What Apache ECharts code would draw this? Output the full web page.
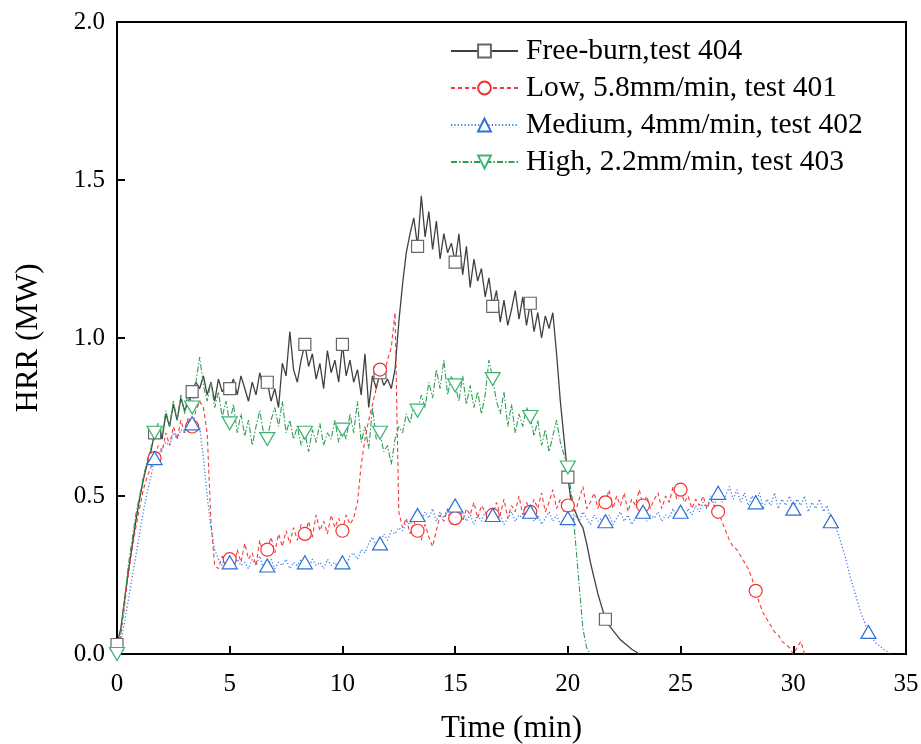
<!DOCTYPE html>
<html><head><meta charset="utf-8">
<script src="https://cdn.jsdelivr.net/npm/echarts@6/dist/echarts.min.js"></script>
<style>html,body{margin:0;padding:0;background:#fff}#c{width:921px;height:744px}</style>
</head><body><div id="c"></div>
<script>
// sampling interval of the records (10 s = 1/6 min)
const STEP_MIN = 1 / 6;
const MARK_EVERY = 10;

const X_MIN = 0, X_MAX = 35, X_INTERVAL = 5;
const Y_MIN = 0, Y_MAX = 2, Y_INTERVAL = 0.5;

const X_TITLE = 'Time (min)';
const Y_TITLE = 'HRR (MW)';

const NAMES = [
  'Free-burn,test 404',
  'Low, 5.8mm/min, test 401',
  'Medium, 4mm/min, test 402',
  'High, 2.2mm/min, test 403'
];

const FREE_BURN = [
  0.03,0.08,0.17,0.26,0.34,0.42,
  0.49,0.55,0.60,0.64,0.70,0.72,
  0.68,0.76,0.72,0.79,0.74,0.81,
  0.77,0.80,0.83,0.86,0.84,0.88,
  0.82,0.86,0.80,0.87,0.83,0.85,
  0.84,0.87,0.82,0.88,0.84,0.80,
  0.86,0.82,0.89,0.84,0.86,0.80,
  0.84,0.78,0.92,0.88,1.02,0.90,
  0.86,0.93,0.98,0.91,0.95,0.87,
  0.92,0.84,0.96,0.89,0.93,0.86,
  0.98,0.88,0.93,0.86,0.90,0.82,
  0.95,0.78,0.88,0.84,0.89,0.85,
  0.87,0.84,0.90,1.05,1.17,1.27,
  1.33,1.38,1.29,1.45,1.32,1.40,
  1.28,1.37,1.25,1.33,1.27,1.30,
  1.24,1.33,1.20,1.29,1.16,1.25,
  1.18,1.22,1.13,1.19,1.10,1.15,
  1.05,1.12,1.04,1.09,1.15,1.06,
  1.13,1.04,1.11,1.02,1.08,1.00,
  1.07,1.03,1.08,0.95,0.80,0.68,
  0.56,0.47,0.45,0.42,0.40,0.35,
  0.29,0.24,0.19,0.15,0.11,0.09,
  0.075,0.06,0.045,0.035,0.025,0.015,
  0.008,0.00
];

const LOW = [
  0.00,0.06,0.15,0.25,0.33,0.40,
  0.46,0.52,0.56,0.59,0.62,0.66,
  0.64,0.70,0.66,0.72,0.68,0.74,
  0.70,0.75,0.72,0.77,0.80,0.78,
  0.70,0.42,0.28,0.27,0.31,0.28,
  0.30,0.27,0.33,0.29,0.35,0.30,
  0.32,0.28,0.36,0.31,0.33,0.37,
  0.32,0.38,0.34,0.39,0.35,0.40,
  0.36,0.41,0.38,0.42,0.37,0.44,
  0.39,0.42,0.38,0.44,0.40,0.43,
  0.39,0.44,0.41,0.43,0.48,0.60,
  0.68,0.74,0.79,0.84,0.90,0.88,
  0.93,0.97,1.08,0.45,0.40,0.43,
  0.38,0.42,0.39,0.36,0.41,0.37,
  0.34,0.39,0.44,0.42,0.46,0.41,
  0.43,0.47,0.42,0.46,0.44,0.48,
  0.43,0.47,0.45,0.42,0.44,0.48,
  0.44,0.49,0.43,0.47,0.45,0.50,
  0.44,0.48,0.45,0.49,0.46,0.51,
  0.45,0.48,0.52,0.46,0.49,0.45,
  0.47,0.50,0.45,0.49,0.53,0.46,
  0.48,0.51,0.46,0.50,0.48,0.52,
  0.46,0.50,0.47,0.51,0.45,0.49,
  0.47,0.52,0.47,0.50,0.46,0.49,
  0.51,0.46,0.50,0.48,0.53,0.49,
  0.52,0.48,0.50,0.46,0.49,0.47,
  0.50,0.46,0.49,0.47,0.45,0.42,
  0.39,0.36,0.34,0.33,0.31,0.29,
  0.27,0.24,0.20,0.16,0.13,0.11,
  0.09,0.07,0.06,0.04,0.03,0.02,
  0.00,0.02,0.04,0.00
];

const MEDIUM = [
  0.00,0.04,0.10,0.17,0.24,0.31,
  0.38,0.45,0.51,0.56,0.62,0.63,
  0.65,0.67,0.66,0.70,0.68,0.71,
  0.70,0.72,0.73,0.71,0.72,0.62,
  0.50,0.40,0.33,0.30,0.28,0.31,
  0.29,0.27,0.30,0.28,0.29,0.27,
  0.30,0.28,0.31,0.27,0.28,0.30,
  0.27,0.29,0.28,0.30,0.27,0.29,
  0.28,0.30,0.29,0.27,0.30,0.28,
  0.29,0.27,0.30,0.28,0.29,0.27,
  0.29,0.28,0.31,0.32,0.30,0.33,
  0.32,0.35,0.37,0.34,0.35,0.38,
  0.36,0.39,0.38,0.40,0.39,0.42,
  0.41,0.43,0.44,0.42,0.45,0.43,
  0.46,0.42,0.45,0.43,0.46,0.44,
  0.47,0.43,0.45,0.42,0.44,0.41,
  0.44,0.42,0.45,0.43,0.44,0.42,
  0.44,0.41,0.43,0.45,0.42,0.44,
  0.43,0.46,0.45,0.42,0.44,0.41,
  0.43,0.45,0.42,0.44,0.41,0.43,
  0.43,0.41,0.44,0.42,0.45,0.43,
  0.41,0.44,0.42,0.43,0.42,0.44,
  0.41,0.43,0.45,0.42,0.44,0.41,
  0.43,0.45,0.45,0.42,0.44,0.43,
  0.45,0.42,0.44,0.43,0.46,0.43,
  0.45,0.43,0.46,0.44,0.47,0.45,
  0.48,0.46,0.50,0.47,0.51,0.48,
  0.50,0.53,0.49,0.52,0.48,0.51,
  0.47,0.50,0.48,0.51,0.46,0.49,
  0.47,0.51,0.46,0.49,0.47,0.50,
  0.46,0.49,0.47,0.50,0.45,0.48,
  0.46,0.49,0.45,0.47,0.42,0.41,
  0.38,0.34,0.30,0.25,0.21,0.17,
  0.13,0.10,0.07,0.05,0.035,0.025,
  0.015,0.008,0.00
];

const HIGH = [
  0.00,0.07,0.17,0.28,0.36,0.44,
  0.50,0.56,0.61,0.65,0.70,0.73,
  0.69,0.77,0.72,0.80,0.74,0.82,
  0.76,0.84,0.78,0.86,0.94,0.85,
  0.80,0.86,0.78,0.83,0.75,0.80,
  0.73,0.79,0.70,0.76,0.69,0.74,
  0.66,0.72,0.77,0.70,0.68,0.74,
  0.78,0.72,0.80,0.70,0.74,0.68,
  0.72,0.66,0.70,0.64,0.71,0.67,
  0.73,0.66,0.70,0.68,0.74,0.67,
  0.71,0.68,0.76,0.70,0.80,0.67,
  0.72,0.65,0.78,0.68,0.70,0.64,
  0.66,0.60,0.68,0.72,0.70,0.76,
  0.73,0.79,0.77,0.82,0.78,0.86,
  0.81,0.90,0.84,0.93,0.82,0.88,
  0.85,0.80,0.88,0.79,0.85,0.78,
  0.83,0.76,0.82,0.93,0.87,0.80,
  0.76,0.83,0.72,0.79,0.70,0.76,
  0.72,0.78,0.75,0.69,0.74,0.66,
  0.71,0.64,0.69,0.74,0.67,0.63,
  0.59,0.50,0.36,0.22,0.08,0.02,
  0.00
];

// indices where the marker is not drawn in the original figure
const SKIP_FREE = [];
const SKIP_LOW = [0, 180];
const SKIP_MED = [0];
const SKIP_HIGH = [];

const FONT = "'Liberation Serif','Times New Roman',serif";

function build(values, skip) {
  return values.map(function (v, i) {
    const t = i * STEP_MIN;
    const mark = (i % MARK_EVERY === 0) && skip.indexOf(i) < 0;
    return mark ? { value: [t, v] } : { value: [t, v], symbol: 'none' };
  });
}

const chart = echarts.init(document.getElementById('c'), null, { renderer: 'canvas' });

function lineSeries(name, values, skip, lineColor, markColor, dash, symbol, size, rotate, lw) {
  return {
    name: name,
    type: 'line',
    data: build(values, skip),
    symbol: symbol,
    symbolSize: size,
    symbolRotate: rotate,
    showSymbol: true,
    showAllSymbol: true,
    clip: false,
    animation: false,
    lineStyle: { color: lineColor, width: lw, type: dash },
    itemStyle: { color: '#fff', borderColor: markColor, borderWidth: 1.2 },
    emphasis: { disabled: true }
  };
}

chart.setOption({
  backgroundColor: '#fff',
  animation: false,
  grid: {
    left: 117, right: 15, top: 22, bottom: 90,
    containLabel: false, outerBoundsMode: 'none',
    show: true, borderColor: '#000', borderWidth: 2, backgroundColor: 'transparent'
  },
  legend: {
    orient: 'vertical',
    left: 445,
    top: 31,
    itemWidth: 67,
    itemHeight: 16,
    itemGap: 7,
    data: NAMES,
    textStyle: { fontFamily: FONT, fontSize: 29.5, color: '#000', lineHeight: 30, padding: [0, 0, 0, 3] }
  },
  xAxis: {
    type: 'value',
    min: X_MIN, max: X_MAX, interval: X_INTERVAL,
    name: X_TITLE,
    nameLocation: 'middle',
    nameGap: 59,
    nameTextStyle: { fontFamily: FONT, fontSize: 31, color: '#000' },
    axisLine: { show: true, onZero: false, lineStyle: { color: '#000', width: 2 } },
    axisTick: { show: true, inside: true, length: 8, lineStyle: { color: '#000', width: 2 } },
    axisLabel: { fontFamily: FONT, fontSize: 25, color: '#000', margin: 18 },
    splitLine: { show: false }
  },
  yAxis: {
    type: 'value',
    min: Y_MIN, max: Y_MAX, interval: Y_INTERVAL,
    name: Y_TITLE,
    nameLocation: 'middle',
    nameGap: 73,
    nameRotate: 90,
    nameTextStyle: { fontFamily: FONT, fontSize: 31, color: '#000' },
    axisLine: { show: true, onZero: false, lineStyle: { color: '#000', width: 2 } },
    axisTick: { show: true, inside: true, length: 8, lineStyle: { color: '#000', width: 2 } },
    axisLabel: { fontFamily: FONT, fontSize: 25, color: '#000', margin: 12, formatter: function (v) { return v.toFixed(1); } },
    splitLine: { show: false }
  },
  series: [
    lineSeries(NAMES[0], FREE_BURN, SKIP_FREE, '#404040', '#666666', 'solid', 'rect', 12, 0, 1.3),
    lineSeries(NAMES[1], LOW, SKIP_LOW, '#f43a3a', '#f03232', [4, 3], 'circle', 13, 0, 1.1),
    lineSeries(NAMES[2], MEDIUM, SKIP_MED, '#3a7de6', '#2f6fd6', [1.2, 2.2], 'triangle', [15, 13], 0, 1.3),
    lineSeries(NAMES[3], HIGH, SKIP_HIGH, '#2f9e55', '#3cb371', [6, 2, 1.5, 2], 'triangle', [15, 13], 180, 1.1)
  ]
});
</script>
</body></html>
